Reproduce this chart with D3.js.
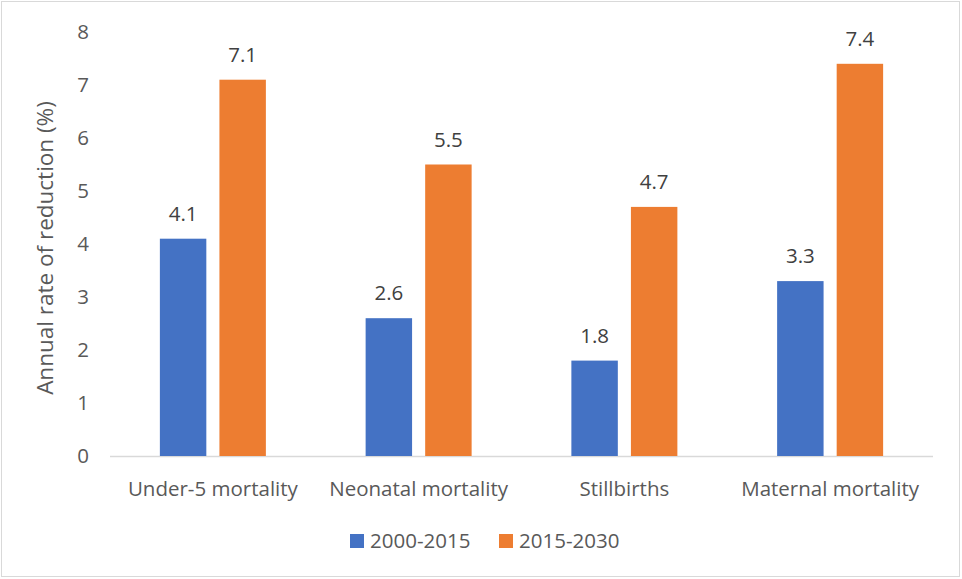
<!DOCTYPE html>
<html><head><meta charset="utf-8">
<script src="https://cdn.jsdelivr.net/npm/d3@7"></script>
<style>body{margin:0;background:#fff}svg{display:block}</style>
</head><body>
<svg id="c" width="962" height="579"></svg>
<script>
const categories = ["Under-5 mortality","Neonatal mortality","Stillbirths","Maternal mortality"];
const seriesNames = ["2000-2015","2015-2030"];
const values2000_2015 = [4.1,2.6,1.8,3.3];
const values2015_2030 = [7.1,5.5,4.7,7.4];
const yTicks = [0,1,2,3,4,5,6,7,8];
const colors = ["#4472C4","#ED7D31"];
const yLabel = "Annual rate of reduction (%)";

const svg = d3.select("#c");
const font = "'Open Sans', sans-serif";
const txt = "#595959";
const fs = 20.5;
svg.append("rect").attr("x",1.5).attr("y",1.5).attr("width",958).attr("height",575)
  .attr("fill","#fff").attr("stroke","#d9d9d9");

const pL=110, pR=933, pT=32, pB=456;
const x = d3.scaleBand().domain(categories).range([pL,pR]);
const x1 = d3.scaleBand().domain(seriesNames).range([0,106]).paddingInner(0.22);
const y = d3.scaleLinear().domain([0,8]).range([pB,pT]);

const tk = svg.append("g").attr("font-family",font).attr("font-size",fs).attr("fill",txt);
yTicks.forEach(t=>{
  tk.append("text").attr("x",89).attr("y",y(t)).attr("dy","0.35em").attr("text-anchor","end").text(t);
});
svg.append("line").attr("x1",pL).attr("x2",pR).attr("y1",pB+0.5).attr("y2",pB+0.5)
  .attr("stroke","#d9d9d9").attr("stroke-width",1.5);

const data = categories.map((c,i)=>({c, v:[values2000_2015[i],values2015_2030[i]]}));
const g = svg.append("g");
data.forEach(d=>{
  const gx = x(d.c)+x.bandwidth()/2-53;
  d.v.forEach((v,j)=>{
    g.append("rect").attr("x",gx+x1(seriesNames[j])).attr("y",y(v))
      .attr("width",x1.bandwidth()).attr("height",y(0)-y(v)).attr("fill",colors[j]);
    g.append("text").attr("x",gx+x1(seriesNames[j])+x1.bandwidth()/2).attr("y",y(v)-18)
      .attr("text-anchor","middle").attr("font-family",font).attr("font-size",fs).attr("fill","#404040")
      .text(v.toFixed(1));
  });
  tk.append("text").attr("x",x(d.c)+x.bandwidth()/2).attr("y",496).attr("text-anchor","middle").text(d.c);
});

svg.append("text").attr("transform",`translate(53,${(pT+pB)/2+4}) rotate(-90)`)
  .attr("text-anchor","middle").attr("font-family",font).attr("font-size",22.5).attr("fill",txt).text(yLabel);

const lg = svg.append("g").attr("font-family",font).attr("font-size",fs).attr("fill",txt);
const lx=[350,499];
seriesNames.forEach((s,i)=>{
  lg.append("rect").attr("x",lx[i]).attr("y",534).attr("width",14).attr("height",14).attr("fill",colors[i]);
  lg.append("text").attr("x",lx[i]+20).attr("y",541).attr("dy","0.35em").text(s);
});
</script>
</body></html>
